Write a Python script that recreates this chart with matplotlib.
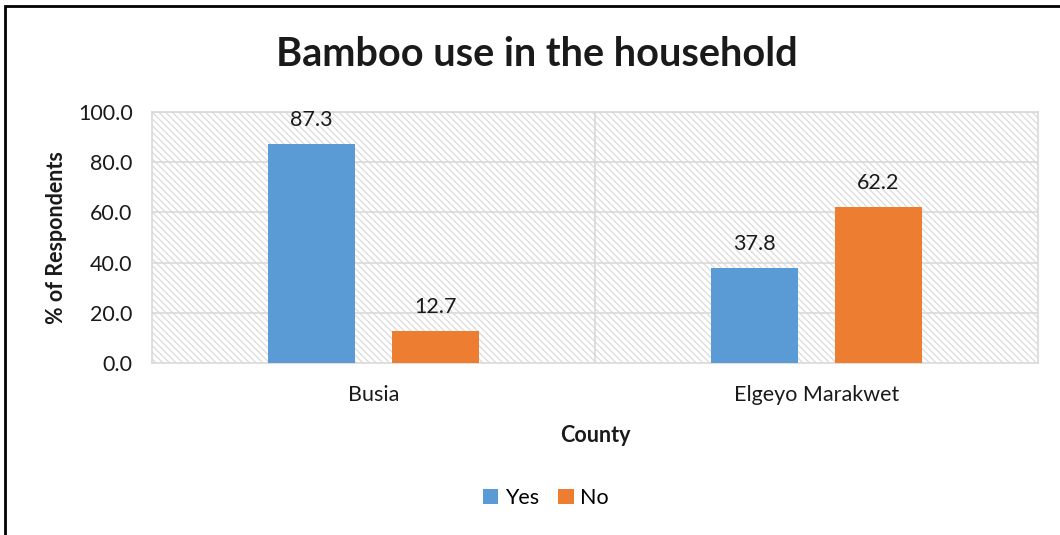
import matplotlib
matplotlib.use("Agg")
import matplotlib.pyplot as plt
from matplotlib.patches import Rectangle
import numpy as np

categories = ["Busia", "Elgeyo Marakwet"]
yes_vals = [87.3, 37.8]
no_vals = [12.7, 62.2]
series_names = ["Yes", "No"]
yticks = [0.0, 20.0, 40.0, 60.0, 80.0, 100.0]

plt.rcParams['font.family'] = ['Lato', 'DejaVu Sans']
plt.rcParams['hatch.color'] = '#dedede'
plt.rcParams['hatch.linewidth'] = 1.0

W, H = 1060, 535
fig = plt.figure(figsize=(W/100, H/100), dpi=100)
ax = fig.add_axes([152/W, 1-363/H, (1038-152)/W, (363-112)/H])

ax.set_xlim(-0.5, len(categories)-0.5)
ax.set_ylim(0, 100)

# hatched background
bg = Rectangle((0, 0), 1, 1, transform=ax.transAxes, facecolor='white',
               edgecolor='#dedede', hatch='\\\\\\\\\\', linewidth=0, zorder=0)
ax.add_patch(bg)
ax.set_facecolor('white')

x = np.arange(len(categories))
bw = 0.195
off = 0.14
c_yes = '#5b9bd5'
c_no = '#ed7d31'
fs = 15.5
b1 = ax.bar(x-off, yes_vals, bw, color=c_yes, label=series_names[0], zorder=3)
b2 = ax.bar(x+off, no_vals, bw, color=c_no, label=series_names[1], zorder=3)

for bars, vals in ((b1, yes_vals), (b2, no_vals)):
    for r, v in zip(bars, vals):
        ax.annotate(f"{v:.1f}", (r.get_x()+r.get_width()/2, v), xytext=(0, 10),
                    textcoords='offset points', ha='center', va='bottom',
                    fontsize=fs, color='#1a1a1a', zorder=4)

ax.set_yticks(yticks)
ax.set_yticklabels([f"{t:.1f}" for t in yticks], fontsize=fs, color='#1a1a1a')
ax.set_xticks(x)
ax.set_xticklabels(categories, fontsize=fs, color='#1a1a1a')
ax.tick_params(axis='y', length=0, pad=14)
ax.tick_params(axis='x', length=0, pad=16)
for yv in yticks[1:]:
    ax.axhline(yv, color='#d9d9d9', linewidth=1.2, zorder=1)
for xv in np.arange(0.5, len(categories)-0.5, 1):
    ax.axvline(xv, color='#d9d9d9', linewidth=1.2, zorder=1)
for s in ax.spines.values():
    s.set_color('#d9d9d9')
    s.set_linewidth(1.2)

ax.set_ylabel("% of Respondents", fontsize=fs, fontweight='bold', color='#1a1a1a', labelpad=8)
ax.set_xlabel("County", fontsize=fs, fontweight='bold', color='#1a1a1a', labelpad=14)

fig.text(537/W, 1-55/H, "Bamboo use in the household", ha='center', va='center',
         fontsize=28.5, fontweight='bold', color='#1a1a1a')

leg = fig.legend(handles=[b1, b2], labels=series_names, loc='center',
                 bbox_to_anchor=(546/W, 1-498/H), ncol=2, frameon=False,
                 fontsize=fs, handlelength=0.7, handleheight=0.7,
                 handletextpad=0.3, columnspacing=0.9)

# outer frame
fig.patches.append(Rectangle((5/W, -0.05), 1.2, 1-6/H+0.05, transform=fig.transFigure,
                             fill=False, edgecolor='black', linewidth=2))

fig.savefig("out.png", dpi=100)
